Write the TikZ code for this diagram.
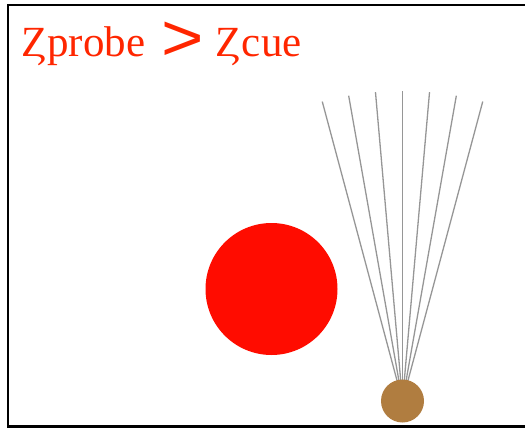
\documentclass[tikz,border=0pt]{standalone}
\usepackage{fontspec}
\setmainfont{Liberation Serif}
\newfontfamily\gtfont{Liberation Sans}
\definecolor{ballred}{RGB}{255,12,0}
\definecolor{txtred}{RGB}{255,38,0}
\definecolor{brownball}{RGB}{176,125,64}
\definecolor{rodgray}{RGB}{150,150,150}
\begin{document}
\begin{tikzpicture}[x=1pt,y=-1pt,
  rod/.style={draw=rodgray,line width=1.3pt},
  lbl/.style={text=txtred,anchor=base west,inner sep=0pt,font=\fontsize{43}{45}\selectfont}]
\useasboundingbox (0,0) rectangle (525,428);
\draw[line width=2.6pt,black] (540,5) -- (8,5) -- (8,426.5) -- (540,426.5);
\node[lbl] (zp) at (21,56.7) {Ȥprobe};
\node[lbl,font=\gtfont\fontsize{66}{68}\selectfont] (gt) at (161,60.6) {\scalebox{1.1}[1]{>}};
\node[lbl] (zc) at (215.5,56.7) {Ȥcue};
\fill[ballred] (271.5,289) circle (66);
\coordinate (c) at (402.5,401);
\foreach \a in {-15,-10,-5,0,5,10,15}{
  \draw[rod] (c) -- ++({90+\a}:{-310});
}
\node[circle,fill=brownball,minimum size=43pt,inner sep=0pt] (ball) at (c) {};
\end{tikzpicture}
\end{document}
